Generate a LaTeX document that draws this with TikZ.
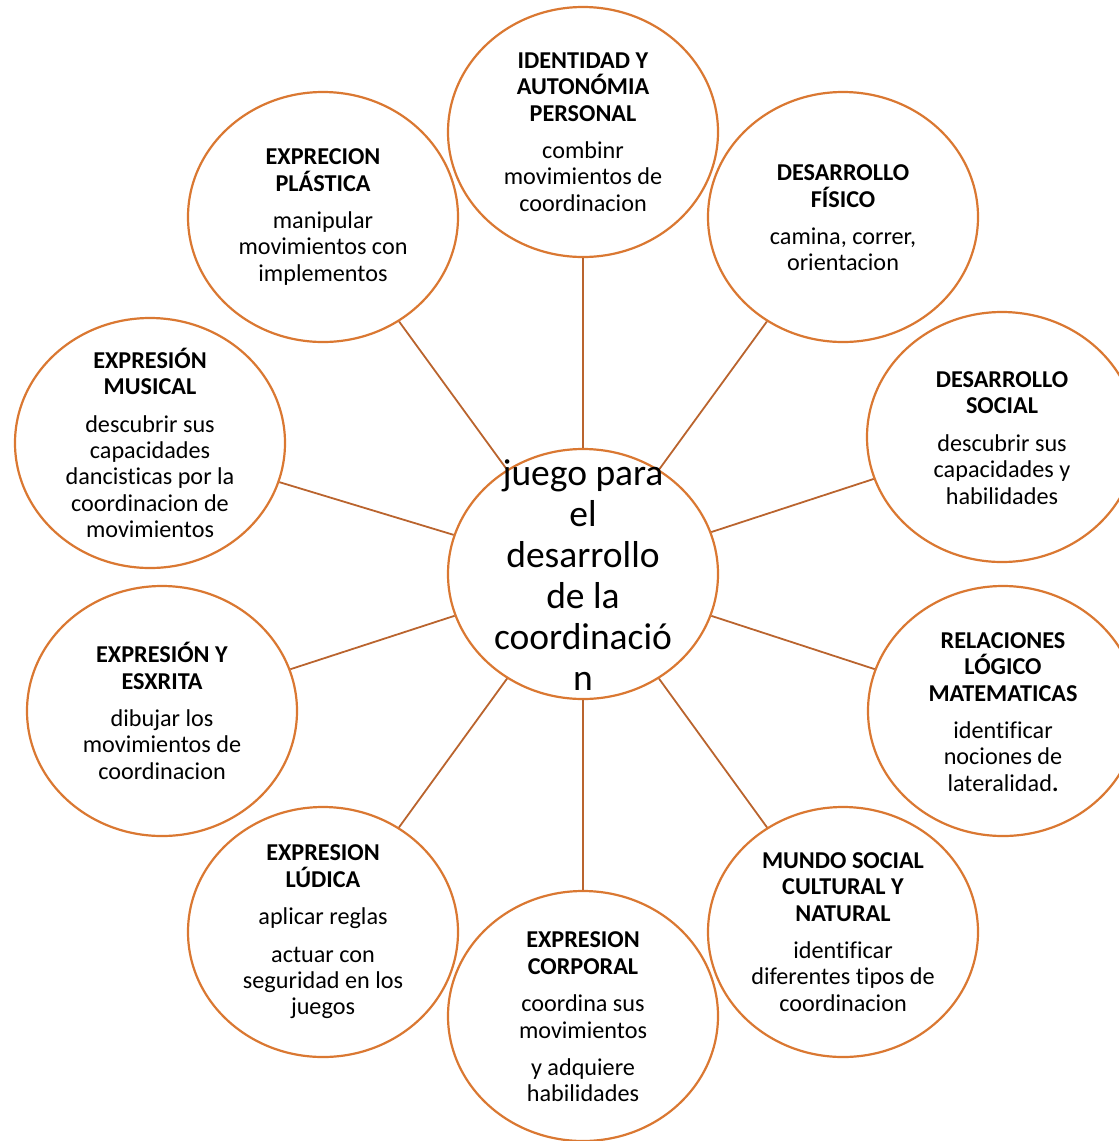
\documentclass[tikz,border=0pt]{standalone}
\usepackage{fontspec}
\setmainfont{Carlito}[Ligatures=NoCommon]
\usetikzlibrary{shapes.geometric}
\definecolor{ring}{RGB}{218,120,50}
\definecolor{spoke}{RGB}{186,100,46}
\tikzset{
  x=1pt, y=-1pt,
  bubble/.style={ellipse, draw=ring, line width=2.2pt, fill=white, minimum width=270pt, minimum height=250pt, inner sep=0pt},
  btext/.style={align=center, font=\fontsize{24.2}{26.4}\selectfont, inner sep=0pt},
  ctext/.style={align=center, font=\fontsize{37.5}{41}\selectfont, inner sep=0pt},
  link/.style={draw=spoke, line width=1.8pt}
}
\begin{document}
\begin{tikzpicture}
\useasboundingbox (0,0) rectangle (1119,1141);
% ellipses
\node[bubble] (c) at (583,574) {};
\node[bubble] (n1) at (583,132) {};
\node[bubble] (n2) at (843,217) {};
\node[bubble] (n3) at (1002,437) {};
\node[bubble] (n4) at (1003,711) {};
\node[bubble] (n5) at (843,932) {};
\node[bubble] (n6) at (583,1016) {};
\node[bubble] (n7) at (323,932) {};
\node[bubble] (n8) at (162,711) {};
\node[bubble] (n9) at (150,443) {};
\node[bubble] (n10) at (323,217) {};
% connectors
\foreach \k in {1,...,10} {\draw[link] (c) -- (n\k);}
% texts
\node[ctext] (ct) at (583,575) {juego para\\el\\desarrollo\\de la\\coordinació\\n};
\node[btext] (t1) at (583,132) {\textbf{IDENTIDAD Y}\\\textbf{AUTONÓMIA}\\\textbf{PERSONAL}\\[11pt]combinr\\movimientos de\\coordinacion};
\node[btext] (t2) at (843,218) {\textbf{DESARROLLO}\\\textbf{FÍSICO}\\[11pt]camina, correr,\\orientacion};
\node[btext] (t3) at (1002,438) {\textbf{DESARROLLO}\\\textbf{SOCIAL}\\[11pt]descubrir sus\\capacidades y\\habilidades};
\node[btext] (t4) at (1003,712) {\textbf{RELACIONES}\\\textbf{LÓGICO}\\\textbf{MATEMATICAS}\\[11pt]identificar\\nociones de\\lateralidad\textbf{.}};
\node[btext] (t5) at (843,932) {\textbf{MUNDO SOCIAL}\\\textbf{CULTURAL Y}\\\textbf{NATURAL}\\[11pt]identificar\\diferentes tipos de\\coordinacion};
\node[btext] (t6) at (583,1017) {\textbf{EXPRESION}\\\textbf{CORPORAL}\\[11pt]coordina sus\\movimientos\\[11pt]y adquiere\\habilidades};
\node[btext] (t7) at (323,932) {\textbf{EXPRESION}\\\textbf{LÚDICA}\\[11pt]aplicar reglas\\[11pt]actuar con\\seguridad en los\\juegos};
\node[btext] (t8) at (162,711) {\textbf{EXPRESIÓN Y}\\\textbf{ESXRITA}\\[11pt]dibujar los\\movimientos de\\coordinacion};
\node[btext] (t9) at (150,443) {\textbf{EXPRESIÓN}\\\textbf{MUSICAL}\\[11pt]descubrir sus\\capacidades\\dancisticas por la\\coordinacion de\\movimientos};
\node[btext] (t10) at (323,217) {\textbf{EXPRECION}\\\textbf{PLÁSTICA}\\[11pt]manipular\\movimientos con\\implementos};
\end{tikzpicture}
\end{document}
